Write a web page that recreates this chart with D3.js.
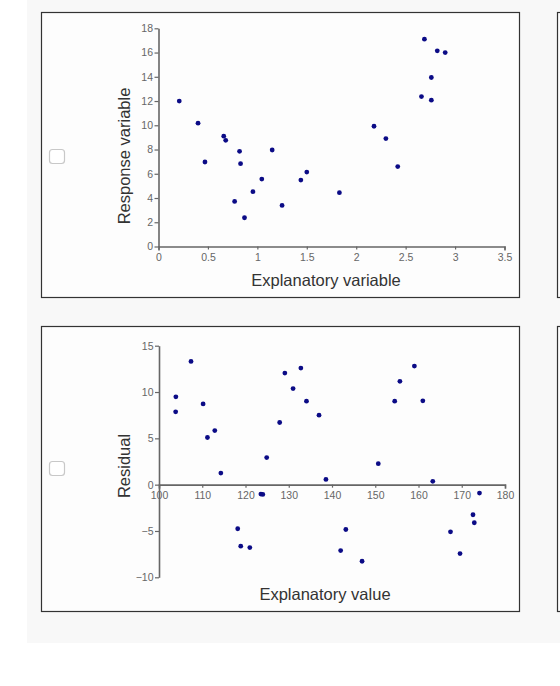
<!DOCTYPE html>
<html>
<head>
<meta charset="utf-8">
<script src="https://cdn.jsdelivr.net/npm/d3@7"></script>
<style>
  body { margin: 0; background: #fff; font-family: Arial, "Liberation Sans", sans-serif; }
</style>
</head>
<body>
<div id="chart"></div>
<script>
// top chart: response vs explanatory
const explanatory = [0.21, 0.40, 0.47, 0.66, 0.68, 0.82, 0.83, 0.77, 0.87, 0.955, 1.045, 1.15, 1.25,
  1.44, 1.50, 1.83, 2.18, 2.30, 2.42, 2.66, 2.76, 2.76, 2.69, 2.82, 2.90];
const response = [12.0, 10.17, 6.97, 9.1, 8.76, 7.85, 6.83, 3.72, 2.37, 4.52, 5.56, 7.96, 3.39,
  5.48, 6.14, 4.44, 9.92, 8.9, 6.59, 12.37, 12.07, 13.94, 17.1, 16.14, 16.0];
const xTicks1 = [0, 0.5, 1, 1.5, 2, 2.5, 3, 3.5];
const yTicks1 = [0, 2, 4, 6, 8, 10, 12, 14, 16, 18];

// bottom chart: residuals
const explValue = [103.9, 103.85, 107.4, 110.2, 112.9, 111.2, 114.3, 124.9, 127.9, 129.1, 131.0, 132.8,
  134.1, 137.0, 150.7, 154.5, 155.7, 159.05, 161.0, 123.56, 124.0, 118.2, 118.9, 121.0,
  138.6, 163.3, 174.1, 143.2, 142.0, 146.95, 167.4, 169.6, 172.6, 172.9];
const residual = [9.48, 7.86, 13.3, 8.72, 5.84, 5.09, 1.25, 2.92, 6.71, 12.05, 10.37, 12.59,
  9.01, 7.5, 2.27, 9.01, 11.15, 12.8, 9.05, -1.02, -1.05, -4.76, -6.64, -6.79,
  0.57, 0.36, -0.91, -4.84, -7.11, -8.27, -5.09, -7.44, -3.25, -4.11];
const xTicks2 = [100, 110, 120, 130, 140, 150, 160, 170, 180];
const yTicks2 = [-10, -5, 0, 5, 10, 15];

const width = 560, height = 686;
const svg = d3.select("#chart").append("svg")
  .attr("width", width).attr("height", height);

// grey page panel
svg.append("rect").attr("x", 27).attr("y", 0).attr("width", width - 27).attr("height", 643)
  .attr("fill", "#f8f8f8");

// option boxes (left two plus the edge of the right column)
const boxes = [{ x: 41, y: 12 }, { x: 41, y: 326 }, { x: 557, y: 12 }, { x: 557, y: 326 }];
svg.selectAll("rect.box").data(boxes).join("rect")
  .attr("class", "box")
  .attr("x", d => d.x + 0.5).attr("y", d => d.y + 0.5)
  .attr("width", 478).attr("height", 285)
  .attr("fill", "#fdfdfd").attr("stroke", "#333").attr("stroke-width", 1.2);

// checkboxes
svg.selectAll("rect.check").data([157, 469]).join("rect")
  .attr("class", "check")
  .attr("x", 49.5).attr("y", d => d - 7.5)
  .attr("width", 15).attr("height", 14).attr("rx", 3)
  .attr("fill", "#fff").attr("stroke", "#c8c8c8").attr("stroke-width", 1.2);

function styleAxis(g) {
  g.selectAll("path.domain").attr("stroke", "#666").attr("stroke-width", 1.6);
  g.selectAll(".tick line").attr("stroke", "#666").attr("stroke-width", 1.2);
  g.selectAll(".tick text").attr("fill", "#666").attr("font-size", 10.5)
    .attr("font-family", "Arial, 'Liberation Sans', sans-serif");
}

// ---- chart 1
const x1 = d3.scaleLinear().domain([0, 3.5]).range([158.5, 504.5]);
const y1 = d3.scaleLinear().domain([0, 18]).range([246.5, 28.3]);

svg.append("g")
  .attr("transform", `translate(0,${y1(0)})`)
  .call(d3.axisBottom(x1).tickValues(xTicks1).tickSize(3).tickSizeOuter(4).tickPadding(4)
    .tickFormat(d => d))
  .call(styleAxis);

svg.append("g")
  .attr("transform", `translate(${x1(0)},0)`)
  .call(d3.axisLeft(y1).tickValues(yTicks1).tickSize(4).tickSizeOuter(0).tickPadding(1.5))
  .call(styleAxis);

svg.append("g").selectAll("circle").data(explanatory).join("circle")
  .attr("cx", d => x1(d))
  .attr("cy", (d, i) => y1(response[i]))
  .attr("r", 2.4).attr("fill", "#0b0b86");

svg.append("text").attr("x", 326).attr("y", 286)
  .attr("text-anchor", "middle").attr("font-size", 16.5).attr("fill", "#333")
  .text("Explanatory variable");
svg.append("text")
  .attr("transform", "translate(130,156) rotate(-90)")
  .attr("text-anchor", "middle").attr("font-size", 16.5).attr("fill", "#333")
  .text("Response variable");

// ---- chart 2
const x2 = d3.scaleLinear().domain([100, 180]).range([159, 505]);
const y2 = d3.scaleLinear().domain([-10, 15]).range([577.3, 345.7]);

svg.append("g")
  .attr("transform", `translate(0,${y2(0)})`)
  .call(d3.axisBottom(x2).tickValues(xTicks2).tickSize(3).tickSizeOuter(4).tickPadding(4))
  .call(styleAxis);

svg.append("g")
  .attr("transform", `translate(${x2(100)},0)`)
  .call(d3.axisLeft(y2).tickValues(yTicks2).tickSize(4).tickSizeOuter(0).tickPadding(1.5))
  .call(styleAxis);

svg.append("g").selectAll("circle").data(explValue).join("circle")
  .attr("cx", d => x2(d))
  .attr("cy", (d, i) => y2(residual[i]))
  .attr("r", 2.4).attr("fill", "#0b0b86");

svg.append("text").attr("x", 325).attr("y", 600)
  .attr("text-anchor", "middle").attr("font-size", 16.5).attr("fill", "#333")
  .text("Explanatory value");
svg.append("text")
  .attr("transform", "translate(130,466) rotate(-90)")
  .attr("text-anchor", "middle").attr("font-size", 16.5).attr("fill", "#333")
  .text("Residual");
</script>
</body>
</html>
